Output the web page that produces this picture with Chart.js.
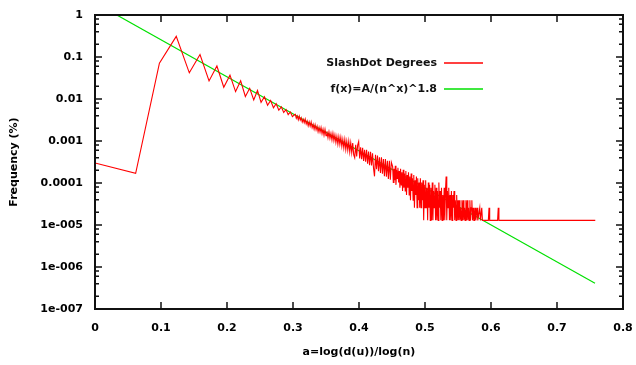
<!DOCTYPE html>
<html><head><meta charset="utf-8">
<script src="https://cdn.jsdelivr.net/npm/chart.js@4.4.0/dist/chart.umd.min.js"></script>
<style>html,body{margin:0;padding:0;background:#fff;}#wrap{width:636px;height:365px;}</style>
</head><body><div id="wrap"><canvas id="c" width="636" height="365"></canvas></div>
<script>
// ---- data ----
const degreeX = [
0, 0.0616, 0.0976, 0.1231, 0.1429, 0.1591, 0.1728, 0.1847, 0.1951, 0.2045, 0.2130, 0.2207, 0.2278, 0.2344, 0.2405, 0.2462, 0.2516, 0.2567, 0.2615, 0.2661, 0.2704, 0.2745, 0.2785, 0.2823, 0.2859, 0.2894, 0.2927, 0.2960, 0.2991, 0.3021,
0.3035,0.3050,0.3065,0.3080,0.3095,0.3110,0.3125,0.3140,0.3155,0.3170,0.3185,0.3200,0.3215,0.3230,0.3245,0.3260,0.3275,0.3290,0.3305,0.3320,
0.3335,0.3350,0.3365,0.3380,0.3395,0.3410,0.3425,0.3440,0.3455,0.3470,0.3485,0.3500,0.3515,0.3530,0.3545,0.3560,0.3575,0.3590,0.3605,0.3620,
0.3635,0.3650,0.3665,0.3680,0.3695,0.3710,0.3725,0.3740,0.3755,0.3770,0.3785,0.3800,0.3815,0.3830,0.3845,0.3860,0.3875,0.3890,0.3905,0.3920,
0.3935,0.3950,0.3965,0.3980,0.3995,0.4010,0.4025,0.4040,0.4055,0.4070,0.4085,0.4100,0.4115,0.4130,0.4145,0.4160,0.4175,0.4190,0.4205,0.4220,
0.4235,0.4250,0.4265,0.4280,0.4295,0.4310,0.4325,0.4340,0.4355,0.4370,0.4385,0.4400,0.4415,0.4430,0.4445,0.4460,0.4475,0.4490,
0.451,0.452,0.453,0.454,0.455,0.456,0.457,0.458,0.459,0.460,0.461,0.462,0.463,0.464,0.465,0.466,0.467,0.468,0.469,0.470,
0.471,0.472,0.473,0.474,0.475,0.476,0.477,0.478,0.479,0.480,0.481,0.482,0.483,0.484,0.485,0.486,0.487,0.488,0.489,0.490,
0.491,0.492,0.493,0.494,0.495,0.496,0.497,0.498,0.499,0.500,0.501,0.502,0.503,0.504,0.505,0.506,0.507,0.508,0.509,0.510,
0.511,0.512,0.513,0.514,0.515,0.516,0.517,0.518,0.519,0.520,0.521,0.522,0.523,0.524,0.525,0.526,0.527,0.528,0.529,0.530,
0.531,0.532,0.533,0.534,0.535,0.536,0.537,0.538,0.539,0.540,0.541,0.542,0.543,0.544,0.545,0.546,0.547,0.548,0.549,0.550,
0.551,0.552,0.553,0.554,0.555,0.556,0.557,0.558,0.559,0.560,0.561,0.562,0.563,0.564,0.565,0.566,0.567,0.568,0.569,0.570,
0.571,0.572,0.573,0.574,0.575,
0.576,0.577,0.579,0.580,0.583,0.584,0.586,0.587,0.596,0.597,0.598,0.610,0.611,0.612,0.758
];
const degreeFreq = [
3.0e-4, 1.7e-4, 0.071, 0.31, 0.042, 0.115, 0.027, 0.061, 0.019, 0.037, 0.015, 0.027, 0.0115, 0.018, 0.0095, 0.016, 8.3e-3, 0.01135, 7.1e-3, 9.2e-3, 6.2e-3, 7.7e-3, 5.4e-3, 6.5e-3, 4.76e-3, 5.6e-3, 4.25e-3, 4.9e-3, 3.8e-3, 4.2e-3,
4.30e-3,3.47e-3,3.95e-3,3.19e-3,3.89e-3,3.14e-3,3.58e-3,2.82e-3,3.30e-3,2.72e-3,3.32e-3,2.56e-3,2.99e-3,2.30e-3,2.87e-3,2.26e-3,2.83e-3,2.08e-3,2.49e-3,1.91e-3,
2.45e-3,1.85e-3,2.25e-3,1.66e-3,2.12e-3,1.63e-3,2.09e-3,1.50e-3,1.92e-3,1.38e-3,1.89e-3,1.33e-3,1.70e-3,1.20e-3,1.64e-3,1.15e-3,1.51e-3,1.06e-3,1.52e-3,1.02e-3,
1.40e-3,9.2e-4,1.29e-3,8.4e-4,1.26e-3,8.3e-4,1.22e-3,7.5e-4,1.10e-3,6.9e-4,1.08e-3,6.3e-4,9.9e-4,6.1e-4,9.8e-4,5.5e-4,9.0e-4,5.3e-4,8.9e-4,4.7e-4,
4.0e-4,8.1e-4,4.3e-4,8.0e-4,9.7e-4,3.85e-4,7.1e-4,3.71e-4,6.9e-4,3.33e-4,6.2e-4,3.21e-4,6.2e-4,2.88e-4,5.6e-4,2.65e-4,5.5e-4,2.61e-4,5.1e-4,2.24e-4,
1.44e-4,4.7e-4,2.14e-4,4.5e-4,1.92e-4,4.1e-4,1.73e-4,4.1e-4,1.67e-4,3.70e-4,1.46e-4,3.73e-4,1.41e-4,3.36e-4,1.24e-4,3.38e-4,1.19e-4,3.11e-4,
2.45e-4,1.03e-4,2.19e-4,1.16e-4,2.58e-4,9.03e-5,2.06e-4,1.29e-4,2.32e-4,1.03e-4,1.94e-4,7.74e-5,2.19e-4,9.03e-5,1.81e-4,6.45e-5,2.06e-4,7.74e-5,1.68e-4,6.45e-5,
1.94e-4,5.16e-5,1.55e-4,7.74e-5,1.81e-4,5.16e-5,1.42e-4,3.87e-5,1.68e-4,6.45e-5,1.29e-4,3.87e-5,1.55e-4,2.58e-5,1.16e-4,5.16e-5,1.42e-4,2.58e-5,1.29e-4,3.87e-5,
1.03e-4,2.58e-5,1.29e-4,2.58e-5,1.03e-4,3.87e-5,1.16e-4,1.29e-5,9.03e-5,2.58e-5,1.16e-4,2.58e-5,7.74e-5,1.29e-5,1.03e-4,2.58e-5,9.03e-5,1.29e-5,7.74e-5,1.29e-5,
1.03e-4,1.29e-5,6.45e-5,2.58e-5,9.03e-5,1.29e-5,7.74e-5,1.29e-5,6.45e-5,1.29e-5,1.03e-4,2.58e-5,6.45e-5,1.29e-5,7.74e-5,1.29e-5,5.16e-5,1.29e-5,7.74e-5,1.29e-5,
6.45e-5,1.42e-4,1.29e-5,6.45e-5,2.58e-5,7.74e-5,1.29e-5,5.16e-5,1.29e-5,6.45e-5,1.29e-5,5.16e-5,2.58e-5,6.45e-5,1.29e-5,3.87e-5,1.29e-5,5.16e-5,1.29e-5,3.87e-5,
1.29e-5,3.87e-5,1.29e-5,2.58e-5,1.29e-5,3.87e-5,1.29e-5,3.87e-5,1.29e-5,2.58e-5,1.29e-5,3.87e-5,1.29e-5,3.87e-5,1.29e-5,2.58e-5,1.29e-5,3.87e-5,1.29e-5,2.58e-5,
3.87e-5,1.29e-5,2.58e-5,1.29e-5,1.29e-5,
2.58e-5,1.29e-5,2.58e-5,1.29e-5,2.58e-5,1.29e-5,2.58e-5,1.29e-5,1.29e-5,2.58e-5,1.29e-5,1.29e-5,2.58e-5,1.29e-5,1.29e-5
];
const fitX = [0.033, 0.7576];
const fitFreq = [1, 4.1e-7];
const seriesNames = ['SlashDot Degrees', 'f(x)=A/(n^x)^1.8'];
const xTickLabels = ['0','0.1','0.2','0.3','0.4','0.5','0.6','0.7','0.8'];
const yTickValues = [1e-7,1e-6,1e-5,1e-4,1e-3,1e-2,1e-1,1];
const yTickLabels = ['1e-007','1e-006','1e-005','0.0001','0.001','0.01','0.1','1'];
const xTitle = 'a=log(d(u))/log(n)';
const yTitle = 'Frequency (%)';

// ---- chart ----
const FONT = {family: '"DejaVu Sans", Verdana, sans-serif', size: 11, weight: 'bold'};
Chart.defaults.color = '#000';
Chart.defaults.font = FONT;

const framePlugin = {
  id: 'frame',
  afterDraw(chart) {
    const {ctx, chartArea: a, scales: {x, y}} = chart;
    ctx.save();
    ctx.strokeStyle = '#111';
    ctx.lineWidth = 1.5;
    ctx.beginPath();
    x.ticks.forEach(t => {
      const px = x.getPixelForValue(t.value);
      ctx.moveTo(px, a.bottom); ctx.lineTo(px, a.bottom - 7);
      ctx.moveTo(px, a.top); ctx.lineTo(px, a.top + 7);
    });
    yTickValues.forEach((v, i) => {
      const py = y.getPixelForValue(v);
      ctx.moveTo(a.left, py); ctx.lineTo(a.left + 7, py);
      ctx.moveTo(a.right, py); ctx.lineTo(a.right - 7, py);
      if (i < yTickValues.length - 1) {
        [2, 4, 6, 8].forEach(m => {
          const pm = y.getPixelForValue(v * m);
          ctx.moveTo(a.left, pm); ctx.lineTo(a.left + 4, pm);
          ctx.moveTo(a.right, pm); ctx.lineTo(a.right - 4, pm);
        });
      }
    });
    ctx.stroke();
    ctx.lineWidth = 2;
    ctx.strokeRect(a.left, a.top, a.width, a.height);
    // legend (top right, inside)
    ctx.font = 'bold 11px "DejaVu Sans", Verdana, sans-serif';
    ctx.textAlign = 'right';
    ctx.textBaseline = 'middle';
    ctx.fillStyle = '#111';
    chart.data.datasets.forEach((ds, i) => {
      const ly = 63 + i * 26;
      ctx.fillText(ds.label, 437, ly);
      ctx.strokeStyle = ds.borderColor;
      ctx.lineWidth = 1.5;
      ctx.beginPath();
      ctx.moveTo(444, ly); ctx.lineTo(483, ly);
      ctx.stroke();
    });
    ctx.restore();
  }
};

new Chart(document.getElementById('c'), {
  type: 'line',
  data: {
    datasets: [
      {label: seriesNames[0], data: degreeX.map((v, i) => ({x: v, y: degreeFreq[i]})),
       borderColor: '#ff0000', borderWidth: 1.1, pointRadius: 0, tension: 0, fill: false},
      {label: seriesNames[1], data: fitX.map((v, i) => ({x: v, y: fitFreq[i]})),
       borderColor: '#00e000', borderWidth: 1.2, pointRadius: 0, tension: 0, fill: false}
    ]
  },
  options: {
    responsive: false,
    animation: false,
    devicePixelRatio: 1,
    layout: {padding: 0},
    plugins: {legend: {display: false}, tooltip: {enabled: false}},
    scales: {
      x: {
        type: 'linear', min: 0, max: 0.8,
        grid: {display: false, drawTicks: false}, border: {display: false},
        ticks: {stepSize: 0.1, padding: 13, maxRotation: 0, autoSkip: false,
                callback: (v, i) => xTickLabels[i]},
        title: {display: true, text: xTitle, font: FONT, padding: {top: 0, bottom: 6}},
        afterFit: s => { s.height = 56; s.paddingRight = 13; s.paddingLeft = 0; }
      },
      y: {
        type: 'logarithmic', min: 1e-7, max: 1,
        grid: {display: false, drawTicks: false}, border: {display: false},
        afterBuildTicks: s => { s.ticks = yTickValues.map(v => ({value: v})); },
        ticks: {padding: 12, autoSkip: false, callback: (v, i) => yTickLabels[i]},
        title: {display: true, text: yTitle, font: FONT, padding: {top: 8, bottom: 0}},
        afterFit: s => { s.width = 95; s.paddingTop = 15; s.paddingBottom = 0; }
      }
    }
  },
  plugins: [framePlugin]
});
</script></body></html>
